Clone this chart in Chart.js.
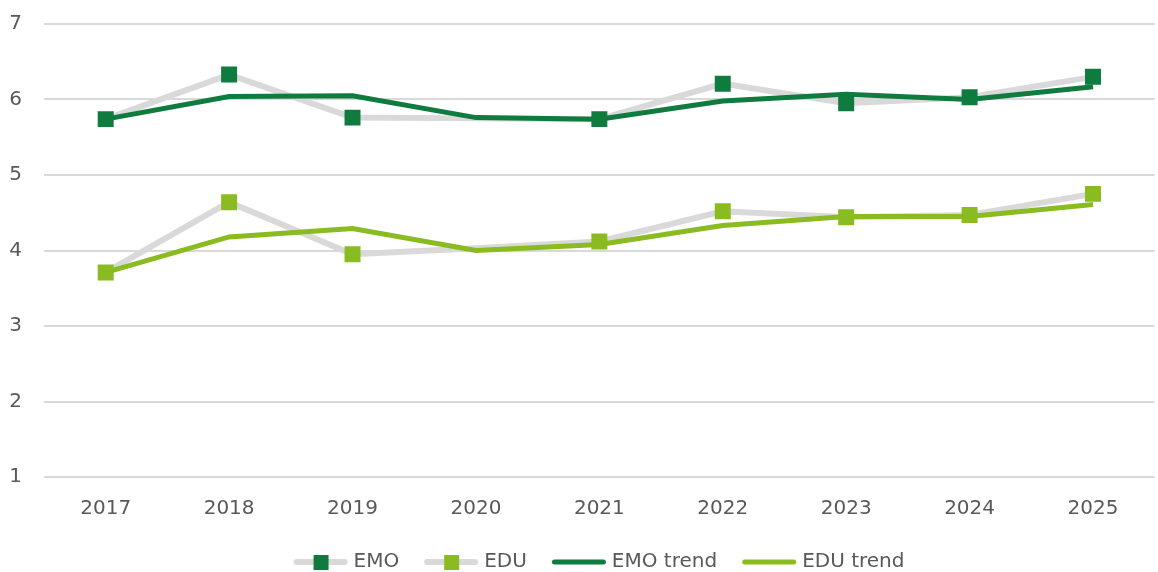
<!DOCTYPE html>
<html>
<head>
<meta charset="utf-8">
<script src="https://cdn.jsdelivr.net/npm/chart.js@4.4.0/dist/chart.umd.min.js"></script>
<style>
  html, body { margin: 0; padding: 0; background: #fff; overflow: hidden; }
  #wrap { width: 1166px; height: 592px; position: relative; margin-top: -10px; }
</style>
</head>
<body>
<div id="wrap"><canvas id="grafico"></canvas></div>
<script>
const years = ['2017', '2018', '2019', '2020', '2021', '2022', '2023', '2024', '2025'];
const emo = [5.74, 6.33, 5.76, 5.75, 5.74, 6.21, 5.95, 6.03, 6.30];
const edu = [3.71, 4.64, 3.95, 4.03, 4.12, 4.52, 4.44, 4.47, 4.75];
const emoTrend = [5.74, 6.04, 6.05, 5.76, 5.74, 5.98, 6.07, 6.00, 6.17];
const eduTrend = [3.71, 4.18, 4.29, 4.00, 4.08, 4.33, 4.45, 4.45, 4.61];
const yTicks = [1, 2, 3, 4, 5, 6, 7];
const noMarkerYear = '2020';

const darkGreen = '#0f7b3f';
const lightGreen = '#8abb21';
const grey = '#d9d9d9';
const textColor = '#595959';
const font = { family: "'DejaVu Sans'", size: 20 };

// legend symbols drawn as small canvases
function legendIcon(lineColor, lineW, markerColor) {
    const c = document.createElement('canvas');
    c.width = 56; c.height = 18;
    const g = c.getContext('2d');
    g.strokeStyle = lineColor;
    g.lineWidth = lineW;
    g.lineCap = 'round';
    g.beginPath();
    g.moveTo(lineW / 2 + 1, 9);
    g.lineTo(56 - lineW / 2 - 1, 9);
    g.stroke();
    if (markerColor) {
        g.fillStyle = markerColor;
        g.fillRect(21, 2, 15, 15);
    }
    return c;
}

const icons = [
    legendIcon(grey, 6, darkGreen),
    legendIcon(grey, 6, lightGreen),
    legendIcon(darkGreen, 5),
    legendIcon(lightGreen, 5)
];

const markerRadius = ctx => years[ctx.dataIndex] === noMarkerYear ? 0 : 11.3;

// nudge the legend a little to the right, as in the original
const legendShift = {
    id: 'legendShift',
    afterLayout(chart) {
        chart.legend.left += 18;
        chart.legend.right += 18;
    }
};

const ctx = document.getElementById('grafico').getContext('2d');
new Chart(ctx, {
    type: 'line',
    data: {
        labels: years,
        datasets: [
            {
                label: 'EMO', data: emo, order: 2,
                borderColor: grey, borderWidth: 6,
                pointStyle: 'rect', pointRadius: markerRadius, pointHoverRadius: markerRadius,
                pointBackgroundColor: darkGreen, pointBorderWidth: 0
            },
            {
                label: 'EDU', data: edu, order: 2,
                borderColor: grey, borderWidth: 6,
                pointStyle: 'rect', pointRadius: markerRadius, pointHoverRadius: markerRadius,
                pointBackgroundColor: lightGreen, pointBorderWidth: 0
            },
            {
                label: 'EMO trend', data: emoTrend, order: 1,
                borderColor: darkGreen, borderWidth: 5, pointRadius: 0
            },
            {
                label: 'EDU trend', data: eduTrend, order: 1,
                borderColor: lightGreen, borderWidth: 5, pointRadius: 0
            }
        ]
    },
    plugins: [legendShift],
    options: {
        responsive: true,
        maintainAspectRatio: false,
        animation: false,
        layout: { padding: { top: 2, left: 0, right: 0, bottom: 0 } },
        plugins: {
            tooltip: { enabled: false },
            legend: {
                position: 'bottom',
                labels: {
                    usePointStyle: true,
                    pointStyleWidth: 46,
                    padding: 29,
                    color: textColor,
                    font: font,
                    sort: (a, b) => a.datasetIndex - b.datasetIndex,
                    generateLabels: chart => chart.data.datasets.map((ds, i) => ({
                        text: ds.label,
                        pointStyle: icons[i],
                        fillStyle: 'transparent',
                        strokeStyle: 'transparent',
                        lineWidth: 0,
                        fontColor: textColor,
                        datasetIndex: i
                    }))
                }
            }
        },
        scales: {
            x: {
                offset: true,
                afterFit: scale => { scale.height = 46; },
                grid: { display: false },
                border: { display: false },
                ticks: { color: textColor, font: font, padding: 12, maxRotation: 0 }
            },
            y: {
                min: 1, max: 7,
                afterFit: scale => { scale.width = 44; },
                afterBuildTicks: scale => { scale.ticks = yTicks.map(v => ({ value: v })); },
                grid: { color: grey, lineWidth: 2, drawTicks: false },
                border: { display: false },
                ticks: { color: textColor, font: font, padding: 22 }
            }
        }
    }
});
</script>
</body>
</html>
